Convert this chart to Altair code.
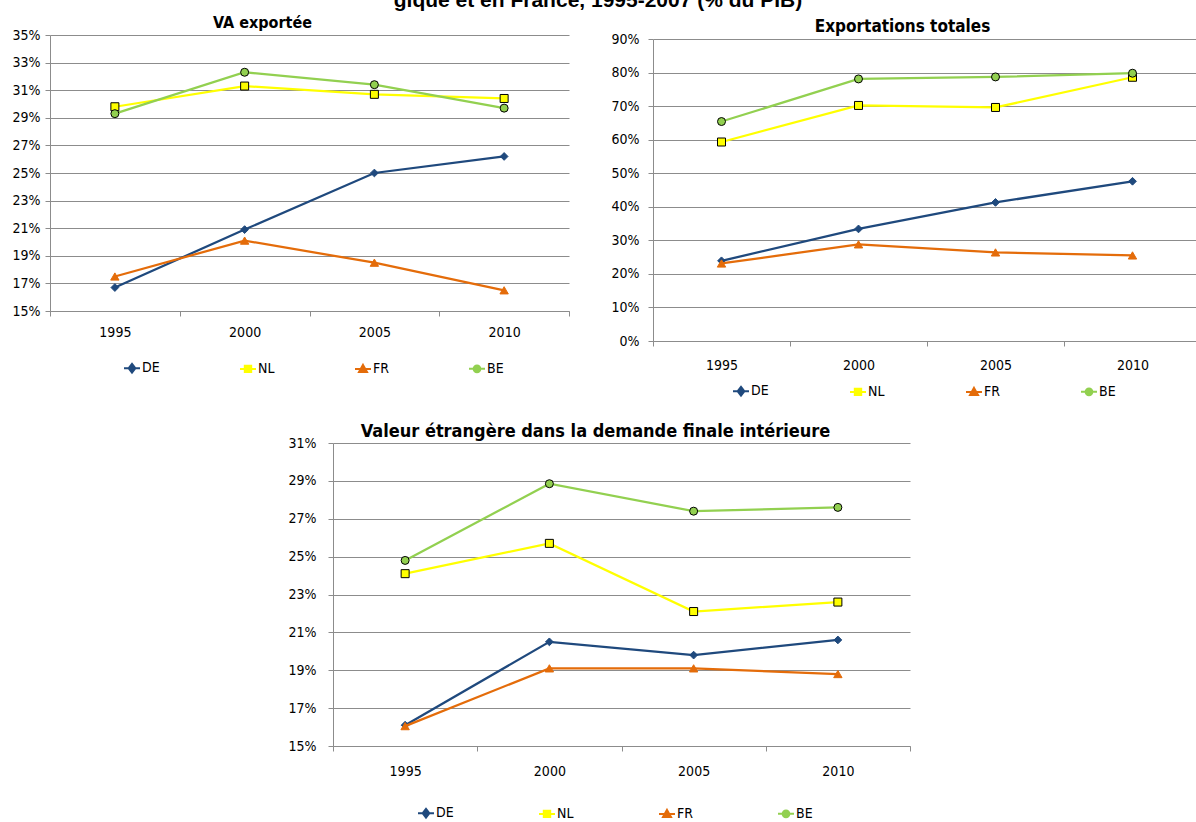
import altair as alt
import pandas as pd

# ---------------- data ----------------
years = ["1995", "2000", "2005", "2010"]
series = ["DE", "NL", "FR", "BE"]
colors = ["#1F497D", "#FFFF00", "#E46C0A", "#92D050"]

# Panel 1 : VA exportée (% du PIB)
va_de = [16.7, 20.9, 25.0, 26.2]
va_nl = [29.8, 31.3, 30.7, 30.4]
va_fr = [17.5, 20.1, 18.5, 16.5]
va_be = [29.3, 32.3, 31.4, 29.7]

# Panel 2 : Exportations totales (% du PIB)
ex_de = [23.9, 33.4, 41.3, 47.6]
ex_nl = [59.3, 70.2, 69.6, 78.6]
ex_fr = [23.1, 28.8, 26.4, 25.5]
ex_be = [65.4, 78.1, 78.7, 79.8]

# Panel 3 : Valeur étrangère dans la demande finale intérieure (% du PIB)
df_de = [16.1, 20.5, 19.8, 20.6]
df_nl = [24.1, 25.7, 22.1, 22.6]
df_fr = [16.05, 19.1, 19.1, 18.8]
df_be = [24.8, 28.85, 27.4, 27.6]

va_ticks = [15, 17, 19, 21, 23, 25, 27, 29, 31, 33, 35]
ex_ticks = [0, 10, 20, 30, 40, 50, 60, 70, 80, 90]
df_ticks = [15, 17, 19, 21, 23, 25, 27, 29, 31]

main_title = "gique et en France, 1995-2007 (% du PIB)"
titles = ["VA exportée", "Exportations totales",
          "Valeur étrangère dans la demande finale intérieure"]

# ---------------- styling ----------------
NARROW = "Liberation Sans Narrow, Arial Narrow, DejaVu Sans Condensed, sans-serif"
GRID = "#8c8c8c"
W, H = 1196, 822

marker_style = {
    "DE": dict(shape="diamond", size=60, stroke="#1F497D", strokeWidth=1),
    "NL": dict(shape="square", size=64, stroke="#000000", strokeWidth=1),
    "FR": dict(shape="triangle-up", size=70, stroke="#E46C0A", strokeWidth=1),
    "BE": dict(shape="circle", size=64, stroke="#000000", strokeWidth=1),
}
legend_paths = [
    "M-1,0H1M0,-0.55L0.42,0L0,0.55L-0.42,0Z",
    "M-1,0H1M-0.4,-0.4H0.4V0.4H-0.4Z",
    "M-1,0H1M0,-0.5L0.5,0.4H-0.5Z",
    "M-1,0H1M0.42,0A0.42,0.42,0,1,1,-0.42,0A0.42,0.42,0,1,1,0.42,0Z",
]


def make_df(vals):
    rows = []
    for s, v in zip(series, vals):
        for y, val in zip(years, v):
            rows.append({"year": y, "series": s, "value": val / 100.0})
    return pd.DataFrame(rows)


def panel(vals, ticks, xr, yr, title, title_size, title_pos, legend_pos,
          legend_gap, ylab_pad, xlab_pad):
    data = make_df(vals)
    x_axis = alt.Axis(orient="bottom", offset=yr[0] - H, title=None,
                      labelAngle=0, tickBand="extent", grid=False,
                      labelPadding=xlab_pad)
    y_axis = alt.Axis(orient="left", offset=-xr[0], values=[t / 100 for t in ticks],
                      format=".0%", grid=True, labelPadding=ylab_pad,
                      title=title, titleAngle=0, titleAlign="center",
                      titleBaseline="middle", titleX=title_pos[0] - xr[0],
                      titleY=title_pos[1], titleFont=NARROW,
                      titleFontSize=title_size, titleFontWeight="bold",
                      titleColor="#000000")
    X = alt.X("year:O", scale=alt.Scale(type="band", domain=years, range=list(xr),
                                        paddingInner=0, paddingOuter=0), axis=x_axis)
    Y = alt.Y("value:Q", scale=alt.Scale(domain=[ticks[0] / 100, ticks[-1] / 100],
                                         range=list(yr), nice=False, zero=False),
              axis=y_axis)
    layers = []
    for s, c in zip(series, colors):
        ms = marker_style[s]
        layers.append(
            alt.Chart(data).transform_filter(alt.datum.series == s).mark_line(
                color=c, strokeWidth=2.25,
                point=alt.OverlayMarkDef(filled=True, fill=c, opacity=1, **ms),
            ).encode(x=X, y=Y)
        )
    leg = alt.Legend(title=None, orient="none", direction="horizontal",
                     legendX=legend_pos[0], legendY=legend_pos[1],
                     columnPadding=legend_gap)
    layers.append(
        alt.Chart(data).transform_filter("false").mark_point(
            filled=True, size=256, opacity=1, strokeWidth=2
        ).encode(
            x=X, y=Y,
            color=alt.Color("series:N", scale=alt.Scale(domain=series, range=colors), legend=leg),
            stroke=alt.Stroke("series:N", scale=alt.Scale(domain=series, range=colors), legend=leg),
            shape=alt.Shape("series:N", scale=alt.Scale(domain=series, range=legend_paths), legend=leg),
        )
    )
    return alt.layer(*layers)


p1 = panel([va_de, va_nl, va_fr, va_be], va_ticks, (50, 569), (311, 35),
           titles[0], 16, (262, 22), (123, 359), 76, 5, 9)
p2 = panel([ex_de, ex_nl, ex_fr, ex_be], ex_ticks, (653, 1201), (341, 39),
           titles[1], 17, (902, 26), (732, 382), 77, 9, 12)
p3 = panel([df_de, df_nl, df_fr, df_be], df_ticks, (333, 910), (746, 443),
           titles[2], 18, (595, 431), (417, 804), 81, 12, 13)

chart = alt.layer(p1, p2, p3).resolve_scale(
    x="independent", y="independent", color="independent",
    stroke="independent", shape="independent"
).resolve_axis(x="independent", y="independent").resolve_legend(
    color="independent", stroke="independent", shape="independent"
).properties(
    width=W, height=H, padding=0,
    autosize=alt.AutoSizeParams(type="none"),
    title=alt.TitleParams(main_title, anchor="middle", frame="group", offset=-11,
                          font="Liberation Sans, Arial, sans-serif", fontSize=21,
                          fontWeight="bold", color="#000000"),
).configure_view(strokeWidth=0).configure_axis(
    labelFont=NARROW, labelFontSize=14, labelColor="#000000",
    domainColor=GRID, tickColor=GRID, gridColor=GRID, gridWidth=1,
    domainWidth=1, tickWidth=1, tickSize=5,
).configure_legend(
    labelFont=NARROW, labelFontSize=14, labelColor="#000000",
    symbolSize=256, symbolStrokeWidth=2, labelOffset=1, padding=0,
    symbolOffset=0,
)

chart.save("out.html", embed_options={"renderer": "svg", "actions": False})
